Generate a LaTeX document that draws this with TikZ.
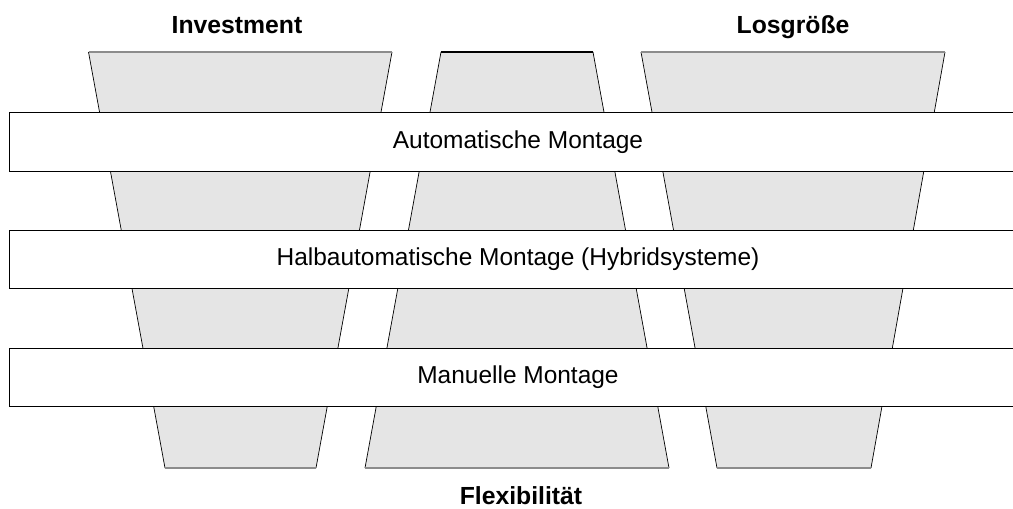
\documentclass[tikz,border=0pt]{standalone}
\usepackage{fontspec}
\setmainfont{Liberation Sans}
\usetikzlibrary{positioning}
\tikzstyle{funnel} = [fill=black!10, draw=none]
\tikzstyle{side} = [draw=black, line width=0.5pt]
\tikzstyle{rim} = [draw=black!45, line width=1pt]
\tikzstyle{level} = [rectangle, minimum width=25.4cm, minimum height=1.47cm, text centered, draw=black, fill=white, line width=0.7pt, font=\fontsize{17.4}{20}\selectfont]
\tikzstyle{caption} = [anchor=base, font=\fontsize{17.6}{20}\selectfont\bfseries]

\begin{document}
\begin{tikzpicture}[x=0.025cm, y=-0.025cm]
\useasboundingbox (0,0) rectangle (1013,508);

% Funnels: Investment, Flexibilitaet, Losgroesse
\fill[funnel] (88.5,52) -- (392,52) -- (316,468) -- (165,468) -- cycle;
\fill[funnel] (441,52) -- (593,52) -- (669,468) -- (365,468) -- cycle;
\fill[funnel] (641,52) -- (945,52) -- (871,468) -- (717,468) -- cycle;
\draw[side] (88.5,52) -- (165,468) (392,52) -- (316,468);
\draw[side] (441,52) -- (365,468) (593,52) -- (669,468);
\draw[side] (641,52) -- (717,468) (945,52) -- (871,468);
\draw[rim] (88.5,52) -- (392,52) (165,468) -- (316,468);
\draw[side, line width=0.9pt] (441,52) -- (593,52);
\draw[rim] (365,468) -- (669,468);
\draw[rim] (641,52) -- (945,52) (717,468) -- (871,468);

% Levels of automation
\node (auto) [level] at (518,142) {Automatische Montage};
\node (halb) [level] at (518,259.5) {Halbautomatische Montage (Hybridsysteme)};
\node (manu) [level] at (518,377.5) {Manuelle Montage};

% Captions
\node (invest) [caption] at (237,33) {Investment};
\node (losgr) [caption] at (793,33) {Losgröße};
\node (flex) [caption] at (521,504) {Flexibilität};

\end{tikzpicture}
\end{document}
